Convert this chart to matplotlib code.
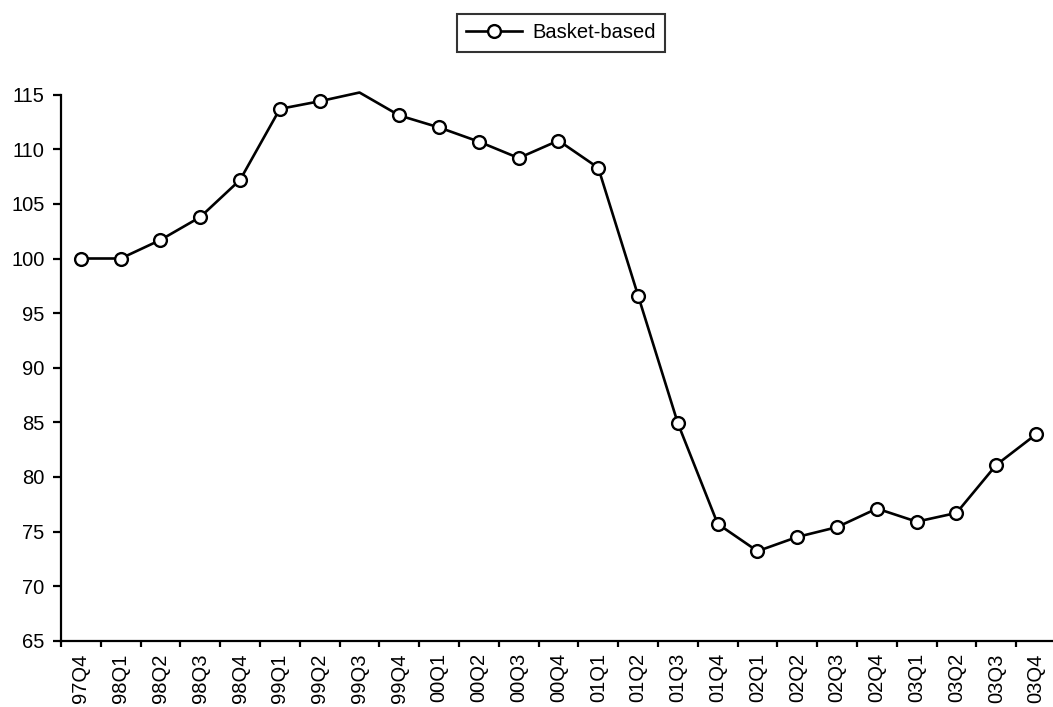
import matplotlib
matplotlib.use("Agg")
import matplotlib.pyplot as plt
import numpy as np
from matplotlib.lines import Line2D

plt.rcParams['font.family'] = ['Liberation Sans', 'DejaVu Sans']

categories = ["97Q4", "98Q1", "98Q2", "98Q3", "98Q4",
              "99Q1", "99Q2", "99Q3", "99Q4",
              "00Q1", "00Q2", "00Q3", "00Q4",
              "01Q1", "01Q2", "01Q3", "01Q4",
              "02Q1", "02Q2", "02Q3", "02Q4",
              "03Q1", "03Q2", "03Q3", "03Q4"]
basket = [100.0, 100.0, 101.7, 103.8, 107.2,
          113.7, 114.4, 115.2, 113.1,
          112.0, 110.7, 109.2, 110.8,
          108.3, 96.6, 84.9, 75.7,
          73.2, 74.5, 75.4, 77.1,
          75.9, 76.7, 81.1, 83.9]
series_name = "Basket-based"
y_min, y_max, y_step = 65, 115, 5

FS = 14.5
W, H = 1053, 707
fig = plt.figure(figsize=(W / 100, H / 100), dpi=100)
left_px, bottom_px, top_px = 61, 640.7, 94.7
cat_w = 39.8
ax = fig.add_axes([left_px / W, (H - bottom_px) / H,
                   cat_w * len(categories) / W, (bottom_px - top_px) / H])

x = np.arange(len(categories))
y = np.array(basket)
ax.plot(x, y, color='black', lw=1.9, clip_on=False, zorder=3)
inside = (y >= y_min) & (y <= y_max)
ax.plot(x[inside], y[inside], linestyle='none', marker='o', ms=9.2,
        mfc='white', mec='black', mew=1.7, clip_on=False, zorder=4)

ax.set_xlim(-0.5, len(categories) - 0.5)
ax.set_ylim(y_min, y_max)
ax.set_yticks(np.arange(y_min, y_max + 1, y_step))
ax.set_xticks(np.arange(len(categories) + 1) - 0.5)
ax.set_xticklabels([])
ax.set_xticks(x, minor=True)
ax.set_xticklabels(categories, minor=True, rotation=90, fontsize=FS)
ax.tick_params(axis='x', which='minor', length=0, pad=9)
ax.tick_params(axis='x', which='major', direction='out', length=4.5, width=1.6)
ax.tick_params(axis='y', direction='out', length=5.8, width=1.6, labelsize=FS, pad=6)

for s in ['top', 'right']:
    ax.spines[s].set_visible(False)
for s in ['left', 'bottom']:
    ax.spines[s].set_linewidth(1.6)

h = Line2D([], [], color='black', lw=1.9, marker='o', ms=9.2,
           mfc='white', mec='black', mew=1.7)
leg = fig.legend([h], [series_name], loc='center',
                 bbox_to_anchor=(561 / W, 1 - 33 / H), frameon=True,
                 fancybox=False, edgecolor='black', fontsize=FS,
                 handlelength=2.8, handletextpad=0.5, borderpad=0.45,
                 borderaxespad=0)
leg.get_frame().set_linewidth(1.5)

fig.savefig("out.png", dpi=100)
